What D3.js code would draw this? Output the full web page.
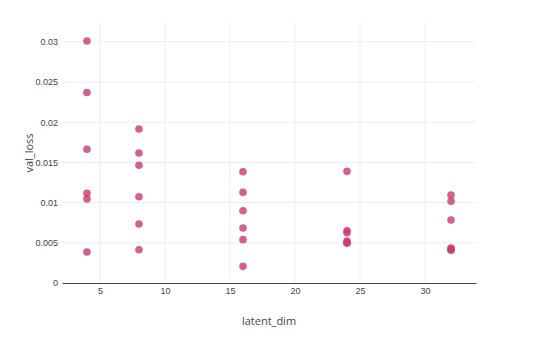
<!DOCTYPE html>
<html>
<head>
<meta charset="utf-8">
<script src="https://cdn.jsdelivr.net/npm/d3@7"></script>
<style>
  body { margin: 0; background: #fff; }
  svg { display: block; font-family: "Open Sans", sans-serif; }
  .grid line { stroke: #eee; stroke-width: 1; }
  .tick text { fill: #444; font-size: 9px; }
  .axis-title { fill: #444; font-size: 11px; }
</style>
</head>
<body>
<div id="chart"></div>
<script>
// latent_dim groups and the val_loss values
var latentDims = [4, 8, 16, 24, 32];
var lossDim4  = [0.0301, 0.0237, 0.01663, 0.01116, 0.01045, 0.00386];
var lossDim8  = [0.01915, 0.01617, 0.01464, 0.01073, 0.00734, 0.00414];
var lossDim16 = [0.01384, 0.01128, 0.00899, 0.00684, 0.00539, 0.00207];
var lossDim24 = [0.01389, 0.0065, 0.00626, 0.00522, 0.00505, 0.00494];
var lossDim32 = [0.01095, 0.01016, 0.00784, 0.00435, 0.00421, 0.00407];
var xTicks = [5, 10, 15, 20, 25, 30];
var yTicks = [0, 0.005, 0.01, 0.015, 0.02, 0.025, 0.03];

var lossByDim = [lossDim4, lossDim8, lossDim16, lossDim24, lossDim32];
var points = [];
latentDims.forEach(function(dim, i) {
    lossByDim[i].forEach(function(v) { points.push({ latent_dim: dim, val_loss: v }); });
});

var W = 538, H = 346;
var margin = { top: 23, right: 62, bottom: 63, left: 62 };
var width = W - margin.left - margin.right,
    height = H - margin.top - margin.bottom;

var svg = d3.select("#chart").append("svg")
    .attr("width", W)
    .attr("height", H);

var g = svg.append("g")
    .attr("transform", "translate(" + margin.left + "," + margin.top + ")");

var x = d3.scaleLinear().domain([2.08, 33.92]).range([0, width]);
var y = d3.scaleLinear().domain([0, 0.03234]).range([height, 0]);

// grid lines
g.append("g").attr("class", "grid")
    .selectAll("line").data(xTicks).enter().append("line")
    .attr("x1", function(d) { return x(d); })
    .attr("x2", function(d) { return x(d); })
    .attr("y1", 0).attr("y2", height);

g.append("g").attr("class", "grid")
    .selectAll("line").data(yTicks.slice(1)).enter().append("line")
    .attr("x1", 0).attr("x2", width)
    .attr("y1", function(d) { return y(d); })
    .attr("y2", function(d) { return y(d); });

// axes
var xAxis = d3.axisBottom(x).tickValues(xTicks).tickSize(0).tickPadding(5);
g.append("g")
    .attr("transform", "translate(0," + height + ")")
    .call(xAxis)
    .call(function(a) {
        a.select(".domain").attr("stroke", "#444").attr("stroke-width", 1);
    });

var yAxis = d3.axisLeft(y).tickValues(yTicks)
    .tickFormat(function(d) { return d === 0 ? "0" : d3.format("")(+d.toFixed(3)); })
    .tickSize(0).tickPadding(4);
g.append("g")
    .call(yAxis)
    .call(function(a) {
        a.select(".domain").remove();
    });

// points
g.selectAll(".dot").data(points).enter().append("circle")
    .attr("class", "dot")
    .attr("cx", function(d) { return x(d.latent_dim); })
    .attr("cy", function(d) { return y(d.val_loss); })
    .attr("r", 3.8)
    .style("fill", "rgb(204,56,110)")
    .style("opacity", 0.8);

// axis titles
svg.append("text")
    .attr("class", "axis-title")
    .attr("x", margin.left + width / 2)
    .attr("y", 325)
    .style("text-anchor", "middle")
    .text("latent_dim");

svg.append("text")
    .attr("class", "axis-title")
    .attr("transform", "translate(33," + (margin.top + height / 2) + ") rotate(-90)")
    .style("text-anchor", "middle")
    .text("val_loss");
</script>
</body>
</html>
